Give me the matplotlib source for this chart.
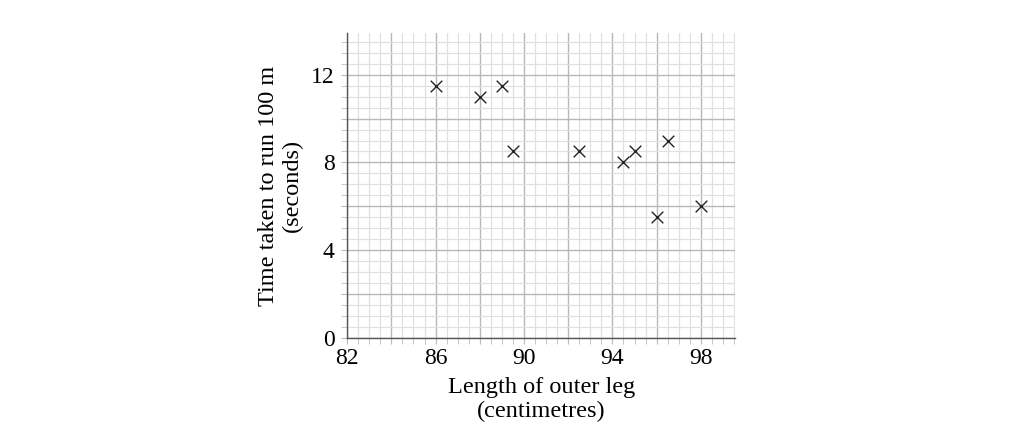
import matplotlib
matplotlib.use("Agg")
import matplotlib.pyplot as plt
import numpy as np

leg_length = [86, 88, 89, 89.5, 92.5, 94.5, 95, 96.5, 96, 98]
run_time = [11.5, 11.0, 11.5, 8.5, 8.5, 8.0, 8.5, 9.0, 5.5, 6.0]
x_ticks = [82, 86, 90, 94, 98]
y_ticks = [0, 4, 8, 12]

plt.rcParams['font.family'] = ['Liberation Serif', 'DejaVu Serif']

fig = plt.figure(figsize=(10.21, 4.37), dpi=100)
ax = fig.add_axes([0.340, 0.2265, 0.380, 0.698])

ax.set_xlim(82, 99.55)
ax.set_ylim(0, 13.9)

ax.set_xticks(np.arange(82, 99.6, 0.5), minor=True)
ax.set_yticks(np.arange(0, 13.9, 0.5), minor=True)
ax.set_xticks(np.arange(82, 99.6, 2))
ax.set_yticks(np.arange(0, 13.9, 2))
ax.set_xticklabels([str(int(v)) if int(v) in x_ticks else '' for v in np.arange(82, 99.6, 2)])
ax.set_yticklabels([str(int(v)) if int(v) in y_ticks else '' for v in np.arange(0, 13.9, 2)])

ax.grid(which='minor', color='#e0e0e0', lw=0.9)
ax.grid(which='major', color='#b8b8b8', lw=1.0)
ax.set_axisbelow(True)

ax.tick_params(which='both', direction='out', color='#bbbbbb', labelsize=17)
ax.tick_params(axis='x', pad=3)
ax.tick_params(axis='y', pad=5)
ax.tick_params(which='major', length=4)
ax.tick_params(which='minor', length=4)

for s in ['top', 'right']:
    ax.spines[s].set_visible(False)
for s in ['left', 'bottom']:
    ax.spines[s].set_color('#555555')
    ax.spines[s].set_linewidth(1.0)

ax.scatter(leg_length, run_time, marker='x', s=70, color='#222222', linewidths=1.0, zorder=3)

ax.set_xlabel('Length of outer leg\n(centimetres)', fontsize=17.5, labelpad=6, linespacing=1.15)
ax.set_ylabel('Time taken to run 100 m\n(seconds)', fontsize=17.5, labelpad=6, linespacing=1.15)

fig.savefig('out.png', dpi=100)
